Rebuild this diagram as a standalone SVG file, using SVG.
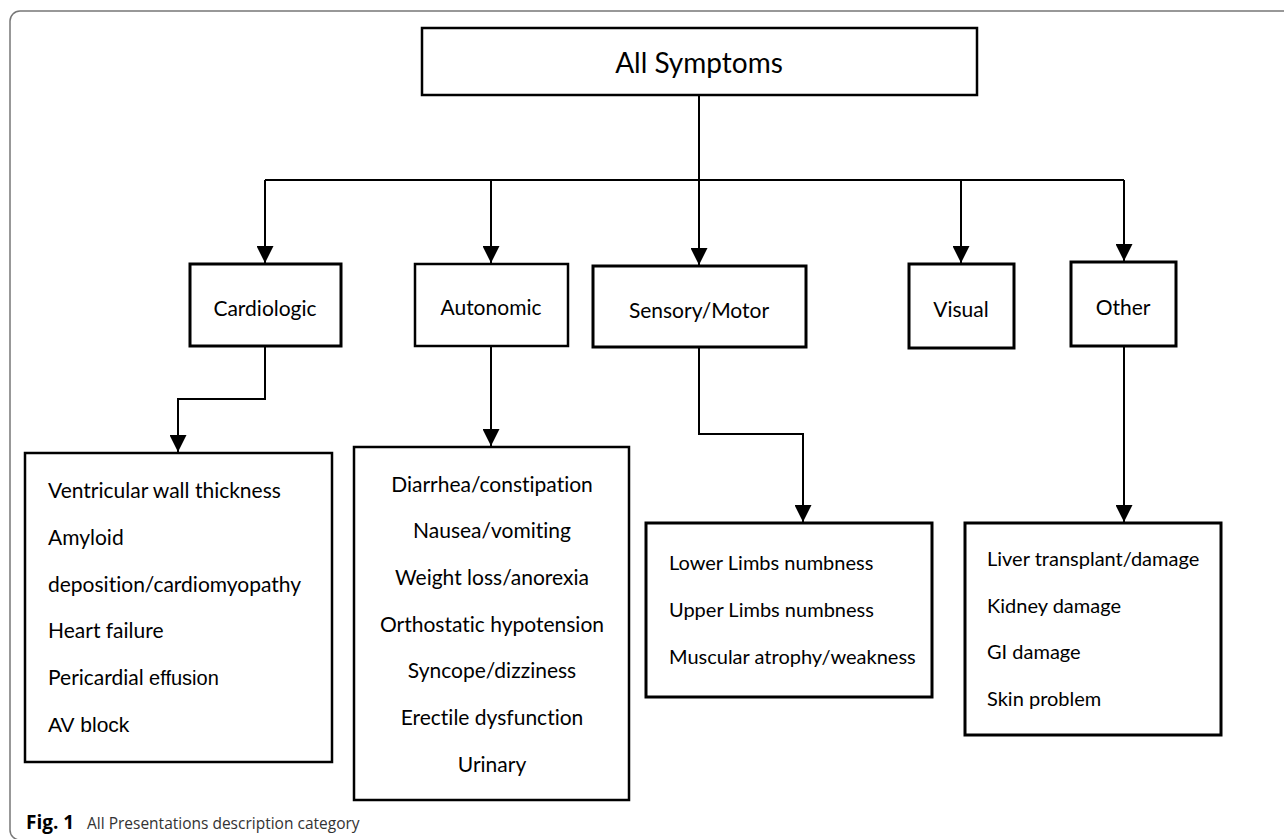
<svg xmlns="http://www.w3.org/2000/svg" width="1284" height="839" viewBox="0 0 1284 839">
<defs>
<style>
text{font-variant-ligatures:none;font-feature-settings:"liga" 0,"clig" 0}
.box{fill:#fff;stroke:#000;stroke-width:2.5}
.thick{stroke-width:3}
.lbl{font-family:Lato,"Open Sans","Liberation Sans",sans-serif;font-size:21px;fill:#000}
.sm{font-size:20px}
.mid{text-anchor:middle}
.ar{font-family:"Liberation Sans",Arial,sans-serif}
.con{fill:none;stroke:#000;stroke-width:2;marker-end:url(#ah)}
.line{fill:none;stroke:#000;stroke-width:2}
.cap{font-family:"Open Sans","Noto Sans",sans-serif;font-size:15.5px;fill:#333}
.capb{font-weight:bold;font-size:19px;fill:#000}
</style>
<marker id="ah" markerUnits="userSpaceOnUse" markerWidth="17" markerHeight="17" viewBox="0 0 17 17" refX="17" refY="8.5" orient="auto">
<path d="M0,0 L17,8.5 L0,17 z" fill="#000"/>
</marker>
</defs>
<rect width="1284" height="839" fill="#fff"/>
<path d="M1284,11 H20 A10,10 0 0 0 10,21 V830 A10,10 0 0 0 20,840 H1284" fill="none" stroke="#777" stroke-width="1.5"/>

<g id="connectors">
<path class="line" d="M699,95 V180 M265,180 H1124"/>
<path class="con" d="M265,180 V263"/>
<path class="con" d="M491,180 V263"/>
<path class="con" d="M699,180 V265"/>
<path class="con" d="M961,180 V263"/>
<path class="con" d="M1124,180 V261"/>
<path class="con" d="M265,346 V399 H178 V452"/>
<path class="con" d="M491,346 V446"/>
<path class="con" d="M699,347 V434 H803 V522"/>
<path class="con" d="M1124,346 V522"/>
</g>

<g id="all-symptoms">
<rect class="box" x="422" y="28" width="555" height="67"/>
<text class="lbl mid" x="699" y="73" style="font-size:28px">All Symptoms</text>
</g>

<g id="cardiologic">
<rect class="box thick" x="190" y="264" width="151" height="82"/>
<text class="lbl mid" x="265" y="316">Cardiologic</text>
</g>

<g id="autonomic">
<rect class="box" x="415" y="264" width="153" height="82"/>
<text class="lbl mid" x="491" y="315">Autonomic</text>
</g>

<g id="sensory-motor">
<rect class="box thick" x="593" y="266" width="213" height="81"/>
<text class="lbl mid" x="699" y="318">Sensory/Motor</text>
</g>

<g id="visual">
<rect class="box thick" x="909" y="264" width="105" height="84"/>
<text class="lbl mid" x="961" y="317">Visual</text>
</g>

<g id="other">
<rect class="box thick" x="1071" y="262" width="105" height="84"/>
<text class="lbl mid" x="1123" y="315">Other</text>
</g>

<g id="cardiologic-details">
<rect class="box" x="25" y="453" width="307" height="309"/>
<text class="lbl" x="48" y="498">Ventricular wall thickness</text>
<text class="lbl" x="48" y="545">Amyloid</text>
<text class="lbl" x="48" y="592">deposition/cardiomyopathy</text>
<text class="lbl" x="48" y="638">Heart failure</text>
<text class="lbl" x="48" y="685">Pericardial <tspan class="ar" style="font-size:20px">effusion</tspan></text>
<text class="lbl ar" x="48" y="732" style="font-size:21px">AV block</text>
</g>

<g id="autonomic-details">
<rect class="box" x="354" y="447" width="275" height="353"/>
<text class="lbl mid" x="492" y="492">Diarrhea/constipation</text>
<text class="lbl mid" x="492" y="538">Nausea/vomiting</text>
<text class="lbl mid" x="492" y="585">Weight loss/anorexia</text>
<text class="lbl mid" x="492" y="632">Orthostatic hypotension</text>
<text class="lbl mid" x="492" y="678">Syncope/dizziness</text>
<text class="lbl mid" x="492" y="725">Erectile dysfunction</text>
<text class="lbl mid" x="492" y="772">Urinary</text>
</g>

<g id="sensory-details">
<rect class="box thick" x="646" y="523" width="286" height="174"/>
<text class="lbl sm" x="669" y="570">Lower Limbs numbness</text>
<text class="lbl sm" x="669" y="617">Upper Limbs numbness</text>
<text class="lbl sm" x="669" y="664">Muscular atrophy/weakness</text>
</g>

<g id="other-details">
<rect class="box thick" x="965" y="523" width="256" height="212"/>
<text class="lbl sm" x="987" y="566">Liver transplant/damage</text>
<text class="lbl sm" x="987" y="613">Kidney damage</text>
<text class="lbl sm" x="987" y="659">GI damage</text>
<text class="lbl sm" x="987" y="706">Skin problem</text>
</g>

<g id="caption">
<text class="cap" x="26" y="829"><tspan class="capb">Fig. 1</tspan><tspan x="87">All Presentations description category</tspan></text>
</g>
</svg>
